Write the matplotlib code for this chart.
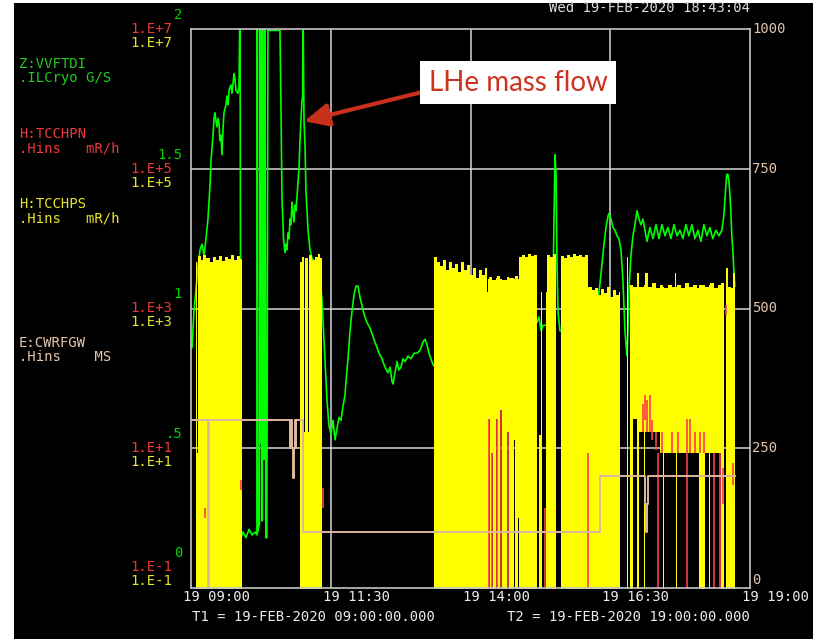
import numpy as np
import matplotlib.pyplot as plt
from matplotlib.patches import Rectangle
from matplotlib.transforms import blended_transform_factory, offset_copy

# time axis: minutes after T1 = 19-FEB-2020 09:00
# Z:VVFTDI  LHe mass flow, G/S (0..2)
green_t = [1.1, 2.1, 3.2, 5.4, 7.5, 9.7, 11.8, 14.0, 16.1, 18.2, 20.4, 21.5, 23.6, 24.7, 25.8,
           26.8, 27.9, 29.0, 30.1, 31.1, 32.2, 33.3, 34.3, 35.4, 37.6, 38.6, 39.7, 40.8, 42.9,
           44.0, 46.2, 47.2, 48.3, 50.4, 51.5, 52.6, 53.7, 55.8, 59.0, 62.3, 65.5, 68.7, 70.8,
           71.2, 71.7, 73.5, 74.1, 74.7, 75.7, 76.5, 77.3, 78.4, 79.4, 80.3, 81.4, 82.6, 95.5,
           96.6, 97.7, 99.3, 100.9, 102.0, 103.0, 104.1, 105.2, 106.3, 107.3, 108.4, 109.5,
           110.5, 111.6, 112.7, 113.8, 115.9, 117.0, 118.1, 119.1, 119.8, 120.2, 121.3, 122.4,
           123.4, 125.6, 127.7, 129.9, 134.2, 138.5, 140.6, 143.8, 146.0, 148.1, 150.3, 152.4,
           154.6, 156.7, 158.8, 161.0, 163.1, 165.3, 166.4, 168.5, 170.7, 172.8, 175.0, 177.1,
           179.2, 181.4, 183.5, 185.7, 188.9, 192.1, 195.3, 198.6, 201.8, 205.0, 208.2, 211.4,
           213.6, 215.7, 216.8, 219.0, 221.1, 223.2, 225.4, 227.5, 229.7, 232.9, 236.1, 239.3,
           242.6, 245.8, 249.0, 251.2, 253.3, 255.4, 257.6, 259.7, 261.9, 267.3, 288.7, 320.9,
           353.1, 371.3, 373.5, 375.7, 377.8, 385.3, 388.5, 389.6, 390.7, 391.8, 392.8, 393.9,
           396.0, 406.8, 428.2, 436.8, 439.0, 441.1, 443.3, 445.4, 447.6, 448.6, 450.8, 452.9,
           455.1, 457.2, 459.3, 461.5, 463.6, 465.8, 467.9, 469.0, 470.1, 472.2, 474.4, 476.5,
           478.7, 480.8, 483.0, 485.1, 487.3, 489.4, 492.6, 495.9, 499.1, 502.3, 505.5, 508.7,
           511.9, 515.1, 518.4, 521.6, 524.8, 528.0, 531.2, 534.4, 537.6, 540.9, 544.1, 547.3,
           550.5, 553.7, 556.9, 560.1, 563.4, 566.6, 569.8, 571.9, 574.1, 575.1, 576.2, 577.3,
           578.4, 579.4, 580.5, 581.6, 582.6, 583.7]
green_v = [0.86, 0.92, 0.99, 1.07, 1.15, 1.21, 1.23, 1.19, 1.25, 1.32, 1.44, 1.53, 1.62, 1.68, 1.70,
           1.67, 1.65, 1.68, 1.66, 1.60, 1.62, 1.55, 1.64, 1.70, 1.73, 1.76, 1.73, 1.78, 1.80,
           1.77, 1.84, 1.82, 1.78, 1.77, 1.79, 2.1, 0.18, 0.20, 0.18, 0.21, 0.19, 0.20, 0.19,
           2.1, 0.20, 0.23, 2.1, 0.52, 2.1, 0.24, 2.1, 0.46, 2.1, 0.18, 0.18, 1.995, 1.995,
           1.71, 1.39, 1.25, 1.20, 1.23, 1.21, 1.27, 1.25, 1.32, 1.30, 1.38, 1.34,
           1.31, 1.37, 1.35, 1.40, 1.50, 1.60, 1.68, 1.74, 1.76, 2.1, 1.67, 1.58,
           1.42, 1.28, 1.21, 1.18, 1.16, 1.10, 1.03, 0.82, 0.67, 0.58, 0.55, 0.60,
           0.53, 0.57, 0.61, 0.60, 0.65, 0.69, 0.74, 0.82, 0.92, 0.99, 1.05, 1.08,
           1.08, 1.04, 1.01, 0.98, 0.95, 0.93, 0.90, 0.87, 0.84, 0.82, 0.79, 0.77,
           0.79, 0.74, 0.73, 0.77, 0.81, 0.78, 0.79, 0.82, 0.81, 0.83, 0.82, 0.84,
           0.84, 0.85, 0.88, 0.89, 0.87, 0.84, 0.82, 0.80, 0.79, 0.89, 0.94, 0.92,
           0.94, 0.95, 0.97, 0.92, 0.94, 0.94, 1.03, 1.32, 1.55, 1.48, 1.17, 0.99,
           0.92, 0.92, 0.94, 1.03, 1.09, 1.16, 1.23, 1.29, 1.33, 1.34, 1.32, 1.29,
           1.28, 1.26, 1.25, 1.21, 1.10, 0.92, 0.83, 0.92, 1.07, 1.19, 1.26, 1.30,
           1.35, 1.32, 1.30, 1.32, 1.28, 1.24, 1.29, 1.25, 1.30, 1.25, 1.30, 1.26,
           1.29, 1.25, 1.30, 1.26, 1.28, 1.25, 1.30, 1.26, 1.30, 1.25, 1.28, 1.24,
           1.30, 1.26, 1.29, 1.25, 1.28, 1.26, 1.28, 1.33, 1.44, 1.48, 1.48, 1.46,
           1.41, 1.35, 1.26, 1.21, 1.14, 1.08]

# H:TCCHPS  mR/h, min/max envelope per interval (step, log scale)
yel_t = [0, 5.4, 6.4, 7.5, 10.7, 12.9, 15.6, 16.6, 20.4, 23.6, 26.8, 30.1, 33.3, 36.5, 39.7,
         42.9, 46.2, 49.4, 52.6, 54.7,
         117.0, 119.1, 121.3, 122.4, 125.6, 126.6, 129.9, 133.1, 136.3, 138.5, 141.1,
         260.8, 264.0, 267.3, 270.5, 273.7, 276.9, 280.1, 283.4, 286.6, 289.8, 293.0, 296.2,
         299.5, 302.7, 305.9, 309.1, 312.3, 315.5, 317.7, 318.8, 319.8, 320.9, 323.0, 324.1,
         327.3, 328.9, 332.2, 333.8, 339.2, 341.8, 346.2, 347.7, 351.0, 352.0, 355.3, 358.5,
         361.7, 364.9, 368.1, 371.3, 373.5, 375.7, 376.8, 378.4, 379.4, 381.0, 382.1, 385.3,
         388.5, 391.8, 397.1, 400.3, 403.6, 406.8, 410.0, 413.2, 416.4, 419.7, 422.9, 426.1,
         430.4, 433.6, 436.8, 440.1, 443.3, 446.5, 449.7, 452.9, 456.2, 459.4, 460.4, 467.9,
         469.5, 471.2, 474.4, 478.7, 480.8, 486.2, 487.3, 490.5, 494.8, 499.1, 503.4, 506.6,
         507.6, 511.9, 516.2, 519.4, 520.5, 521.6, 525.9, 530.2, 534.4, 538.7, 543.0, 545.1,
         551.6, 555.9, 557.6, 561.3, 565.6, 568.8, 571.9, 574.1, 576.2, 579.4, 581.6, 584.3]
yel_hi = [.01, 4630, 8.6, 5640, 4940, 5830, 1.0, 5280, 4630, 5460, 4940, 5640, 4790, 5460, 5110,
          5830, 4940, 5640, 5110, .01,
          4630, 5460, 17, 5280, 17, 5830, 4940, 5460, 6030, 5280, .01,
          5460, 4630, 4050, 4940, 3560, 4630, 3800, 4330, 3330, 4630, 3560, 4200,
          3010, 3800, 2740, 3560, 3010, 3800, 1720, 2640, 2820, 2820, 2560, 2560,
          2740, 2920, 2640, 2560, 2820, 2740, 2640, 2920, 2640, 5460, 5830, 5460,
          6030, 5640, 5830, .01, 15.5, 1720, .01, 1320, .01, 1720, 5830, 5460,
          6030, .01, 5640, 5280, 5830, 5460, 6030, 5640, 5830, 5460, 5830, 2030,
          1840, 1960, 1560, 1900, 1670, 2030, 1460, 1840, 1560, 1720, .01, 5460,
          .01, 2170, 2030, 3220, 2030, 2170, 3220, 2030, 2320, 1960, 2170, 2030,
          1960, 2170, 2030, 3220, 2030, 2170, 1960, 2320, 2030, 2170, 1960, 2170,
          2030, 2170, 2320, 1960, 2170, 2320, .01, 3800, 2030, 1960, 3220, .01]
yel_lo = [.01, .01, .01, .01, .01, .01, .01, .01, .01, .01, .01, .01, .01, .01, .01,
          .01, .01, .01, .01, .01,
          .01, .01, .01, .01, .01, .01, .01, .01, .01, .01, .01,
          .01, .01, .01, .01, .01, .01, .01, .01, .01, .01, .01, .01,
          .01, .01, .01, .01, .01, .01, .01, .01, 26, .01, 8.6, .01,
          26, .01, 35, .01, 17, .01, 13, .01, 1.0, .01, .01, .01,
          .01, .01, .01, .01, .01, .01, .01, .01, .01, .01, .01, .01,
          .01, .01, .01, .01, .01, .01, .01, .01, .01, .01, .01, .01,
          .01, .01, .01, .01, .01, .01, .01, .01, .01, .01, .01, .01,
          .01, .01, 26, .01, 17, .01, 17, 17, 17, 17, 8.6, .01,
          8.6, 8.6, 8.6, 8.6, .01, 8.6, 8.6, 8.6, 8.6, 8.6, 8.6, .01,
          8.6, .01, 8.6, 8.6, 8.6, .01, .01, .01, .01, .01, .01, .01]

# H:TCCHPN  mR/h, short excursions
red_t = [15.0, 53.7, 141.7, 319.8, 323.0, 328.0, 332.7, 340.2, 379.9, 426.1, 485.1, 487.3, 489.4,
         492.6, 494.8, 499.1, 501.3, 505.5, 516.2, 522.7, 532.4, 535.6, 540.9, 546.3, 550.5,
         561.3, 567.8, 571.0, 574.1, 582.1]
red_hi = [1.4, 3.5, 2.7, 26, 8.6, 26, 35, 17, 1.4, 8.6, 43, 58, 49,
          58, 25, 17, 8.6, 17, 17, 17, 26, 26, 17, 17, 17,
          8.6, 8.6, 5.2, 1120, 6.2]
red_lo = [1.0, 2.5, 1.4, .01, .01, .01, .01, .01, .01, .01, 17, 25, 17,
          17, 13, 9.4, .01, 8.6, 8.6, 8.6, .01, 8.6, 8.6, 8.6, 8.6,
          .01, .01, 1.6, 810, 3.0]

# E:CWRFGW  MS
tan_t = [1.1, 18.2, 19.0, 106.3, 107.4, 108.4, 109.5, 110.3, 111.6, 112.2, 113.0, 120.2,
         439.0, 487.3, 488.3, 489.0, 490.0, 583.7]
tan_v = [300, 0, 300, 250, 300, 250, 197, 250, 300, 250, 300, 100,
         200, 150, 100, 150, 200, 200]

green_ticks = [0, 0.5, 1, 1.5, 2]
green_labels = ['0', '.5', '1', '1.5', '2']
log_ticks = [1e-1, 1e1, 1e3, 1e5, 1e7]
log_labels = ['1.E-1', '1.E+1', '1.E+3', '1.E+5', '1.E+7']
right_ticks = [0, 250, 500, 750, 1000]
time_ticks = [0, 150, 300, 450, 600]
time_labels = ['19 09:00', '19 11:30', '19 14:00', '19 16:30', '19 19:00']

GREEN, YEL, RED, TAN = '#00ff00', '#ffff00', '#ff3c4c', '#dcb89e'
mono = dict(family='DejaVu Sans Mono', fontsize=10)
W, H = 813, 639

fig = plt.figure(figsize=(W / 100, H / 100), dpi=100, facecolor='white')
fig.add_artist(Rectangle((14 / W, 0), 1, 636 / H, transform=fig.transFigure,
                         facecolor='black', edgecolor='none', zorder=-5))

ax = fig.add_axes([191 / W, 51 / H, 559 / W, 559 / H])
ax.set_facecolor('black')
axl = ax.twinx()
axr = ax.twinx()

ax.set_xlim(0, 600)
ax.set_ylim(0, 2)
axl.set_yscale('log')
axl.set_ylim(0.1, 1e7)
axr.set_ylim(0, 1000)

ax.set_xticks([150, 300, 450])
ax.set_yticks([0.5, 1, 1.5])
ax.grid(True, color='#d4d4d4', lw=1.1)
for a in (ax, axl, axr):
    a.tick_params(which='both', length=0, labelleft=False, labelright=False, labelbottom=False)
    for s in a.spines.values():
        s.set_visible(a is axr)
axl.yaxis.set_minor_locator(plt.NullLocator())
axl.set_yticks([])
axr.set_yticks([])
for s in axr.spines.values():
    s.set_color('#c4c4c4')
    s.set_linewidth(1.2)

ax.plot(green_t, green_v, color=GREEN, lw=1.2)
axl.fill_between(yel_t, yel_lo, yel_hi, step='post', color=YEL, lw=0)
axl.vlines(red_t, red_lo, red_hi, color=RED, lw=1.2, zorder=3)
axr.step(tan_t, tan_v, where='post', color=TAN, lw=1.4, zorder=4)

# left scale labels: green above, red at, yellow below each grid line
fx = blended_transform_factory(fig.transFigure, ax.transData)
lx = blended_transform_factory(fig.transFigure, axl.transData)
for i in range(5):
    up = 21 if i == 0 else 0
    fig.text(182 / W, green_ticks[i], green_labels[i], color='#00d000', ha='right', va='center',
             transform=offset_copy(fx, fig=fig, y=14 + up, units='dots'), **mono)
    fig.text(172 / W, log_ticks[i], log_labels[i], color='#ee3838', ha='right', va='center',
             transform=offset_copy(lx, fig=fig, y=up, units='dots'), **mono)
    fig.text(172 / W, log_ticks[i], log_labels[i], color='#e8e428', ha='right', va='center',
             transform=offset_copy(lx, fig=fig, y=up - 14, units='dots'), **mono)

rx = blended_transform_factory(fig.transFigure, axr.transData)
for v in right_ticks:
    fig.text(752 / W, v, str(v), color='#e2c4ac', ha='left', va='center',
             transform=offset_copy(rx, fig=fig, y=8 if v == 0 else 0, units='dots'), **mono)

tx = blended_transform_factory(ax.transData, fig.transFigure)
for t, lab in zip(time_ticks, time_labels):
    fig.text(t, 1 - 597 / H, lab, color='#ececec', ha='left', va='center',
             transform=offset_copy(tx, fig=fig, x=-8, units='dots'), **mono)

fig.text(192 / W, 1 - 617 / H, 'T1 = 19-FEB-2020 09:00:00.000', color='#ececec', va='center', **mono)
fig.text(507 / W, 1 - 617 / H, 'T2 = 19-FEB-2020 19:00:00.000', color='#ececec', va='center', **mono)
fig.text(750 / W, 1 - 8 / H, 'Wed 19-FEB-2020 18:43:04', color='#dcdcdc', ha='right', va='center', **mono)

names = [('Z:VVFTDI', '.ILCryo G/S', '#20cc20', 64),
         ('H:TCCHPN', '.Hins   mR/h', '#ee3838', 134),
         ('H:TCCHPS', '.Hins   mR/h', '#e8e428', 204),
         ('E:CWRFGW', '.Hins    MS', '#e2c4ac', 343)]
for name, unit, col, y in names:
    fig.text(19 / W, 1 - y / H, name, color=col, va='center', **mono)
    fig.text(19 / W, 1 - (y + 14) / H, unit, color=col, va='center', **mono)

axr.annotate('LHe mass flow', xy=(121.3, 1.67), xycoords=ax.transData,
             xytext=(0.585, 0.904), textcoords='axes fraction',
             ha='center', va='center', color='#cc3320', fontsize=20, family='Lato',
             bbox=dict(boxstyle='square,pad=0.3', fc='white', ec='none'),
             arrowprops=dict(arrowstyle='-|>,head_length=0.75,head_width=0.35',
                             color='#c8301c', lw=3, mutation_scale=20,
                             shrinkA=0, shrinkB=0, relpos=(0, 0.2)),
             zorder=10)

fig.savefig('out.png', dpi=100, facecolor=fig.get_facecolor())
